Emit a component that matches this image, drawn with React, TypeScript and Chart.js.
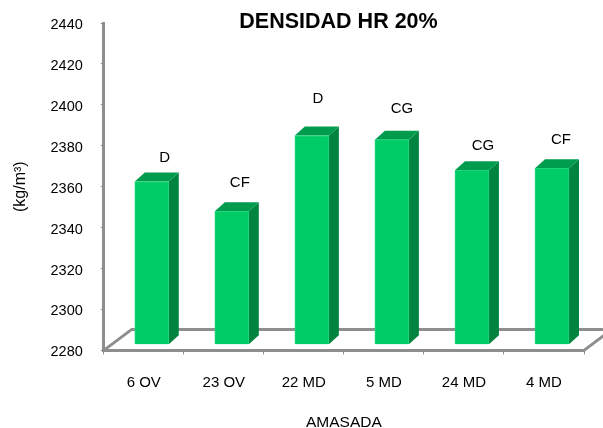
import React, { useEffect, useRef } from "react";
import { Chart, registerables } from "chart.js";

Chart.register(...registerables);

const categories = ["6 OV", "23 OV", "22 MD", "5 MD", "24 MD", "4 MD"];
const densities = [2362.5, 2348, 2385, 2383, 2368, 2369];
const groupLabels = ["D", "CF", "D", "CG", "CG", "CF"];
const groupLabelLevels = [2374, 2362, 2403, 2398, 2380, 2383];
const yTicks = [2280, 2300, 2320, 2340, 2360, 2380, 2400, 2420, 2440];
const chartTitle = "DENSIDAD HR 20%";

const FONT = '"Liberation Sans", Arial, sans-serif';
const GRAY = "#8e8e8e";
const DEPTH_X = 10;
const DEPTH_Y = 9;
const SHIFT_X = 8;
const labelShifts = [13, 8, 6, 10, 11, 9];

const bars3d = {
  id: "bars3d",
  beforeDatasetsDraw(chart: any) {
    const { ctx, chartArea } = chart;
    const { left, right, bottom } = chartArea;
    ctx.save();
    ctx.strokeStyle = GRAY;
    ctx.lineWidth = 3;
    ctx.lineCap = "butt";
    ctx.beginPath();
    ctx.moveTo(left, bottom);
    ctx.lineTo(left + 28, bottom - 21);
    ctx.lineTo(603, bottom - 21);
    ctx.moveTo(right, bottom);
    ctx.lineTo(right + 24, bottom - 18);
    ctx.stroke();
    ctx.restore();

    const meta = chart.getDatasetMeta(0);
    ctx.save();
    meta.data.forEach((bar: any) => {
      const l = bar.x - bar.width / 2 + SHIFT_X;
      const r = bar.x + bar.width / 2 + SHIFT_X;
      const t = bar.y;
      const b = bar.base;
      ctx.fillStyle = "#00843f";
      ctx.beginPath();
      ctx.moveTo(r, t);
      ctx.lineTo(r + DEPTH_X, t - DEPTH_Y);
      ctx.lineTo(r + DEPTH_X, b - DEPTH_Y);
      ctx.lineTo(r, b);
      ctx.closePath();
      ctx.fill();
      ctx.fillStyle = "#009c4e";
      ctx.beginPath();
      ctx.moveTo(l, t);
      ctx.lineTo(l + DEPTH_X, t - DEPTH_Y);
      ctx.lineTo(r + DEPTH_X, t - DEPTH_Y);
      ctx.lineTo(r, t);
      ctx.closePath();
      ctx.fill();
    });
    ctx.restore();
    ctx.save();
    ctx.translate(SHIFT_X, 0);
  },
  afterDatasetsDraw(chart: any) {
    const { ctx, scales } = chart;
    ctx.restore();
    const meta = chart.getDatasetMeta(0);
    ctx.save();
    ctx.fillStyle = "#000";
    ctx.font = `15px ${FONT}`;
    ctx.textAlign = "center";
    ctx.textBaseline = "middle";
    groupLabels.forEach((text, i) => {
      const x = meta.data[i].x + SHIFT_X + labelShifts[i];
      ctx.fillText(text, x, scales.y.getPixelForValue(groupLabelLevels[i]));
    });
    ctx.font = `bold 21.5px ${FONT}`;
    ctx.fillText(chartTitle, 338.5, 22);
    ctx.restore();
  },
};

export default function App() {
  const ref = useRef<HTMLCanvasElement>(null);
  useEffect(() => {
    const chart = new Chart(ref.current!, {
      type: "bar",
      data: {
        labels: categories,
        datasets: [
          {
            data: densities,
            base: 2283,
            backgroundColor: "#00cc66",
            borderColor: "#22d67c",
            borderWidth: 1,
            barThickness: 34,
          } as any,
        ],
      },
      options: {
        animation: false,
        responsive: false,
        maintainAspectRatio: false,
        layout: { padding: { top: 23, right: 19, left: 11, bottom: 0 } },
        plugins: {
          legend: { display: false },
          tooltip: { enabled: false },
          title: { display: false },
        },
        scales: {
          x: {
            grid: { drawOnChartArea: false, drawTicks: true, tickLength: 4, color: GRAY, lineWidth: 1 },
            border: { color: GRAY, width: 3 },
            ticks: { color: "#000", font: { family: FONT, size: 15 }, padding: 19, maxRotation: 0 },
            title: {
              display: true,
              text: "AMASADA",
              color: "#000",
              font: { family: FONT, size: 15.5 },
              padding: { top: 3, bottom: -4 },
            },
          },
          y: {
            min: 2280,
            max: 2440,
            afterBuildTicks(scale: any) {
              scale.ticks = yTicks.map((value) => ({ value }));
            },
            afterFit(scale: any) {
              scale.paddingTop = 0;
              scale.paddingBottom = 0;
            },
            grid: { drawOnChartArea: false, drawTicks: true, tickLength: 3, color: GRAY, lineWidth: 1 },
            border: { color: GRAY, width: 3 },
            ticks: {
              color: "#000",
              font: { family: FONT, size: 14.5 },
              padding: 18,
              labelOffset: 2,
              callback: (value: any) => String(value),
            },
            title: {
              display: true,
              text: "(kg/m³)",
              color: "#000",
              font: { family: FONT, size: 16 },
              padding: { top: 0, bottom: 2.3 },
            },
          },
        },
      },
      plugins: [bars3d],
    } as any);
    return () => chart.destroy();
  }, []);
  return (
    <div style={{ position: "absolute", left: 0, top: 0, width: 603, height: 428, background: "#fff" }}>
      <canvas ref={ref} width={603} height={428} style={{ display: "block" }} />
    </div>
  );
}
